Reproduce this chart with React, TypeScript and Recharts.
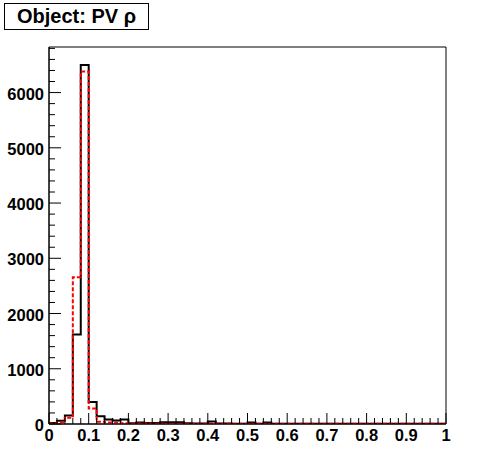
import { Line, LineChart, ReferenceArea, XAxis, YAxis } from "recharts";

// histogram bins: 50 bins of width 0.02 over [0, 1]
const binWidth = 0.02;
const blackCounts = [
  18, 60, 155, 1620, 6500, 400, 140, 80, 63, 80,
  15, 25, 20, 20, 30, 30, 30, 15, 10, 10,
  45, 10, 10, 5, 5, 25, 5, 25, 5, 5,
  5, 5, 3, 3, 3, 3, 3, 3, 3, 3,
  3, 3, 3, 3, 3, 3, 3, 3, 3, 3,
];
const redCounts = [
  10, 30, 115, 2655, 6380, 280, 40, 25, 25, 15,
  8, 8, 8, 5, 5, 5, 5, 5, 5, 5,
  8, 5, 5, 5, 5, 5, 5, 5, 5, 5,
  5, 5, 5, 5, 5, 5, 5, 5, 5, 5,
  5, 5, 5, 5, 5, 5, 5, 5, 5, 5,
];
const xMajor = [0, 0.1, 0.2, 0.3, 0.4, 0.5, 0.6, 0.7, 0.8, 0.9, 1];
const yMajor = [0, 1000, 2000, 3000, 4000, 5000, 6000];
const yMax = 6825;

const data = blackCounts.map((b, i) => ({
  x: +(i * binWidth).toFixed(2),
  black: b,
  red: redCounts[i],
}));
data.push({ x: 1, black: blackCounts[blackCounts.length - 1], red: redCounts[redCounts.length - 1] });

const xTicks = Array.from({ length: 51 }, (_, i) => +(i * 0.02).toFixed(2));
const yTicks = Array.from({ length: 35 }, (_, i) => i * 200);

const font = "'Liberation Sans', Arial, sans-serif";

const isMajor = (v: number, list: number[]) => list.some((m) => Math.abs(m - v) < 1e-6);

const XTick = (props: any) => {
  const { x, y, payload } = props;
  const major = isMajor(payload.value, xMajor);
  return (
    <g>
      <line x1={x} y1={y} x2={x} y2={y - (major ? 11 : 6)} stroke="#000" strokeWidth={1} />
      {major && (
        <text x={x} y={y + 17} textAnchor="middle" fontFamily={font} fontWeight="bold" fontSize={16.5} fill="#000">
          {payload.value}
        </text>
      )}
    </g>
  );
};

const YTick = (props: any) => {
  const { x, y, payload } = props;
  const major = isMajor(payload.value, yMajor);
  return (
    <g>
      <line x1={x} y1={y} x2={x + (major ? 12 : 6)} y2={y} stroke="#000" strokeWidth={1} />
      {major && (
        <text x={x - 5} y={y + 7} textAnchor="end" fontFamily={font} fontWeight="bold" fontSize={16.5} fill="#000">
          {payload.value}
        </text>
      )}
    </g>
  );
};

export default function App() {
  return (
    <div style={{ position: "absolute", left: 0, top: 0, width: 496, height: 472, background: "#fff" }}>
      <LineChart width={496} height={472} data={data} margin={{ top: 47, right: 50, bottom: 0, left: 0 }}>
        <XAxis
          dataKey="x"
          type="number"
          domain={[0, 1]}
          ticks={xTicks}
          interval={0}
          tickSize={0}
          tickMargin={0}
          tickLine={false}
          axisLine={{ stroke: "#000" }}
          tick={<XTick />}
          height={48}
        />
        <YAxis
          type="number"
          domain={[0, yMax]}
          ticks={yTicks}
          interval={0}
          tickSize={0}
          tickMargin={0}
          tickLine={false}
          axisLine={{ stroke: "#000" }}
          tick={<YTick />}
          width={49}
          allowDataOverflow
        />
        <ReferenceArea x1={0} x2={1} y1={0} y2={yMax} fill="none" stroke="#000" strokeWidth={1} ifOverflow="extendDomain" />
        <Line
          dataKey="black"
          type="stepAfter"
          stroke="#000"
          strokeWidth={2}
          dot={false}
          isAnimationActive={false}
        />
        <Line
          dataKey="red"
          type="stepAfter"
          stroke="#ff0000"
          strokeWidth={2}
          strokeDasharray="4 2"
          dot={false}
          isAnimationActive={false}
        />
      </LineChart>
      <div
        style={{
          position: "absolute",
          left: 4,
          top: 3,
          width: 145,
          height: 27,
          border: "1px solid #000",
          boxSizing: "border-box",
          fontFamily: font,
          fontWeight: "bold",
          fontSize: 20,
          lineHeight: "25px",
          textAlign: "center",
          background: "#fff",
        }}
      >
        Object: PV ρ
      </div>
    </div>
  );
}
